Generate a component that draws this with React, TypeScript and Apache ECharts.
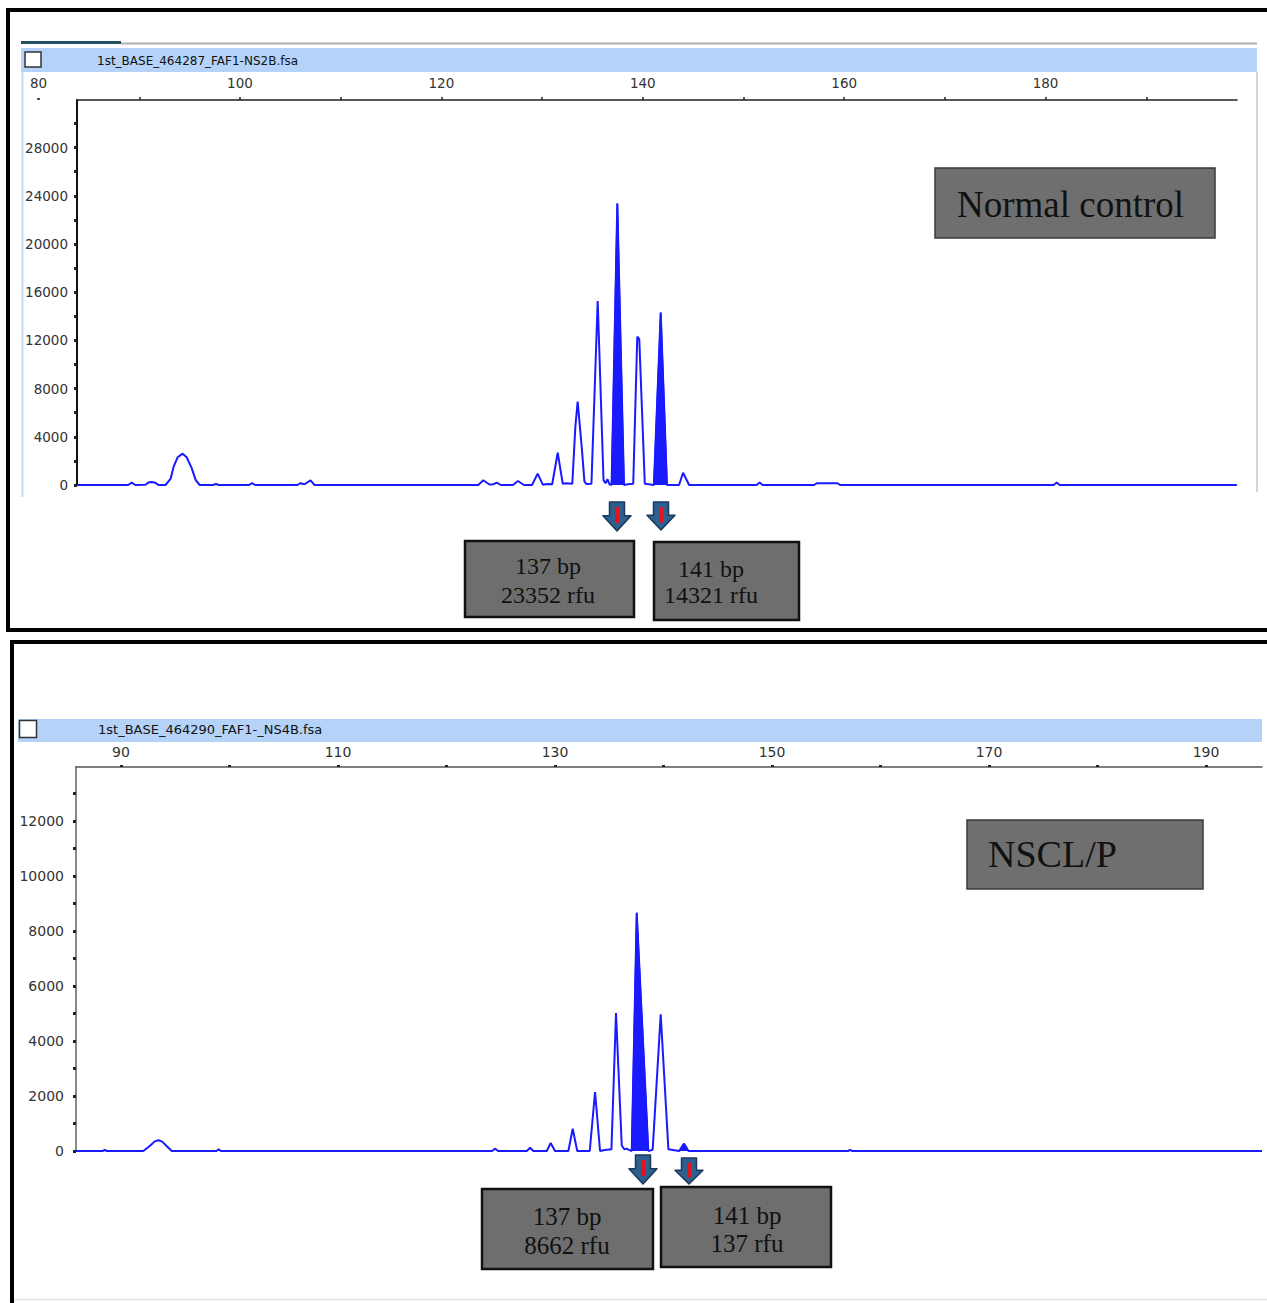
import React, { useEffect, useRef } from "react";
import * as echarts from "echarts";

// ---------------- Top panel : Normal control ----------------
const topFileName = "1st_BASE_464287_FAF1-NS2B.fsa";
const topPanelLabel = "Normal control";
const topSizeLabels = [80, 100, 120, 140, 160, 180];
const topSizeTicks = [90, 100, 110, 120, 130, 140, 150, 160, 170, 180, 190];
const topRfuLabels = [0, 4000, 8000, 12000, 16000, 20000, 24000, 28000];
const topRfuTicks = [0, 2000, 4000, 6000, 8000, 10000, 12000, 14000, 16000, 18000, 20000, 22000, 24000, 26000, 28000, 30000];
const topTrace: [number, number][] = [
  [83.81, 0], [88.9, 0], [89.25, 190], [89.6, 0], [90.6, 20], [90.9, 200], [91.2, 250], [91.6, 180], [91.9, 0],
  [92.6, 0], [93.1, 500], [93.4, 1500], [93.8, 2300], [94.3, 2600], [94.7, 2300], [95.2, 1400], [95.6, 400], [96.0, 0],
  [97.3, 0], [97.6, 80], [97.9, 0], [100.9, 0], [101.2, 150], [101.5, 0],
  [105.7, 0], [106.0, 150], [106.4, 60], [107.0, 390], [107.4, 0],
  [123.66, 0], [124.16, 390], [124.76, 40], [125.15, 60], [125.5, 190], [125.9, 0],
  [127.1, 0], [127.6, 330], [128.2, 0], [129.0, 0], [129.56, 940], [130.07, 30], [130.5, 80],
  [131.0, 60], [131.55, 2680], [132.05, 100], [132.4, 150], [133.0, 100], [133.3, 4800], [133.53, 6920],
  [133.95, 3000], [134.2, 300], [134.4, 80], [134.9, 100], [135.52, 15270], [136.1, 400], [136.3, 150],
  [136.5, 470], [136.7, 60], [136.9, 0], [137.47, 23352], [138.13, 0], [138.5, 60], [139.05, 100],
  [139.45, 12310], [139.65, 12100], [140.2, 100], [140.6, 60], [141.1, 0], [141.78, 14321], [142.4, 0],
  [143.6, 0], [144.0, 1020], [144.6, 0], [151.3, 0], [151.6, 200], [151.9, 0],
  [157.0, 0], [157.3, 150], [159.3, 150], [159.6, 0], [180.8, 0], [181.1, 200], [181.4, 0], [199.0, 0],
];
const topFilled137: [number, number][] = [[136.9, 0], [137.47, 23352], [138.13, 0]];
const topFilled141: [number, number][] = [[141.1, 0], [141.78, 14321], [142.4, 0]];
const topCallouts: [string, string][] = [["137 bp", "23352 rfu"], ["141 bp", "14321 rfu"]];

// ---------------- Bottom panel : NSCL/P ----------------
const botFileName = "1st_BASE_464290_FAF1-_NS4B.fsa";
const botPanelLabel = "NSCL/P";
const botSizeLabels = [90, 110, 130, 150, 170, 190];
const botSizeTicks = [90, 100, 110, 120, 130, 140, 150, 160, 170, 180, 190];
const botRfuLabels = [0, 2000, 4000, 6000, 8000, 10000, 12000];
const botRfuTicks = [0, 1000, 2000, 3000, 4000, 5000, 6000, 7000, 8000, 9000, 10000, 11000, 12000, 13000];
const botTrace: [number, number][] = [
  [85.85, 0], [88.3, 0], [88.5, 35], [88.7, 0], [92.06, 0], [92.7, 200], [93.1, 350], [93.44, 390],
  [93.8, 340], [94.2, 180], [94.67, 0], [98.8, 0], [99.0, 60], [99.2, 0],
  [124.2, 0], [124.47, 85], [124.75, 0], [127.4, 0], [127.7, 120], [128.0, 0],
  [129.24, 0], [129.6, 290], [130.0, 0], [131.23, 0], [131.63, 810], [132.05, 0],
  [133.2, 0], [133.69, 2145], [134.15, 0], [134.6, 40], [135.2, 60], [135.62, 5020], [136.15, 200],
  [136.4, 60], [136.6, 85], [136.8, 40], [137.07, 0], [137.53, 8662], [138.6, 0], [139.0, 40],
  [139.74, 4970], [140.45, 60], [141.45, 0], [141.89, 267], [142.3, 0],
  [157.0, 0], [157.2, 40], [157.4, 0], [195.16, 0],
];
const botFilled137: [number, number][] = [[137.07, 0], [137.53, 8662], [138.6, 0]];
const botFilled141: [number, number][] = [[141.45, 0], [141.89, 267], [142.3, 0]];
const botCallouts: [string, string][] = [["137 bp", "8662 rfu"], ["141 bp", "137 rfu"]];

const BLUE = "#1a1aff";
const AX_FONT = "DejaVu Sans";
const SERIF = "Liberation Serif";

function txt(x: number, y: number, text: string, font: string, align = "left", fill = "#111") {
  return {
    type: "text", x, y, silent: true, z: 10,
    style: { text, font, fill, align, verticalAlign: "middle", textAlign: align, textVerticalAlign: "middle" },
  };
}

function rect(x: number, y: number, w: number, h: number, fill: string, stroke?: string, lw = 1) {
  return {
    type: "rect", silent: true, z: 5,
    shape: { x, y, width: w, height: h },
    style: { fill, stroke: stroke || "none", lineWidth: lw },
  };
}

function line(x1: number, y1: number, x2: number, y2: number, stroke: string, lw: number) {
  return { type: "line", silent: true, z: 5, shape: { x1, y1, x2, y2 }, style: { stroke, lineWidth: lw } };
}

function arrow(cx: number, top: number, h: number) {
  const w = 28;
  const sw = 15;
  const hy = top + h * 0.47;
  return [
    {
      type: "polygon", silent: true, z: 6,
      shape: { points: [[cx - sw / 2, top], [cx + sw / 2, top], [cx + sw / 2, hy], [cx + w / 2, hy], [cx, top + h], [cx - w / 2, hy], [cx - sw / 2, hy]] },
      style: { fill: "#2d5f8f", stroke: "#1a3a5c", lineWidth: 1.5, lineJoin: "round" },
    },
    { type: "rect", silent: true, z: 7, shape: { x: cx - 2, y: top + 5, width: 4, height: h * 0.55 }, style: { fill: "#e3141b" } },
  ];
}

function callout(x: number, y: number, w: number, h: number, lines: [string, string], tx: number, ty1: number, ty2: number, size: number) {
  return [
    rect(x, y, w, h, "#6e6e6e", "#111", 2.5),
    txt(tx, ty1, lines[0], `${size}px "${SERIF}"`, "center"),
    txt(tx, ty2, lines[1], `${size}px "${SERIF}"`, "center"),
  ];
}

function traceSeries(xi: number, data: [number, number][]) {
  return {
    type: "line", xAxisIndex: xi, yAxisIndex: xi, data, symbol: "none", smooth: false,
    lineStyle: { color: BLUE, width: 2 }, z: 3, silent: true,
  };
}

function filledSeries(xi: number, data: [number, number][]) {
  return {
    type: "line", xAxisIndex: xi, yAxisIndex: xi, data, symbol: "none",
    lineStyle: { color: BLUE, width: 1.5 }, areaStyle: { color: BLUE, opacity: 1 }, z: 4, silent: true,
  };
}

export default function App() {
  const ref = useRef<HTMLDivElement>(null);
  useEffect(() => {
    if (!ref.current) return;
    const chart = echarts.init(ref.current, undefined, { renderer: "svg" });
    const fmt = (v: number) => String(v);
    const option: any = {
      animation: false,
      backgroundColor: "#ffffff",
      grid: [
        { left: 38.6, top: 100, width: 1198.4, height: 385 },
        { left: 77, top: 100, width: 1160, height: 385 },
        { left: 76, top: 767, width: 1186, height: 384 },
      ],
      xAxis: [
        {
          gridIndex: 0, type: "value", position: "top", min: 80, max: 199.01,
          axisLine: { show: false, onZero: false }, splitLine: { show: false },
          axisTick: { show: true, customValues: [80], length: 2, lineStyle: { color: "#333", width: 2.5 } },
          axisLabel: { customValues: topSizeLabels, margin: 10, fontSize: 13.5, fontFamily: AX_FONT, color: "#333", formatter: fmt },
        },
        {
          gridIndex: 1, type: "value", position: "top", min: 83.81, max: 199.01,
          axisLine: { show: true, onZero: false, lineStyle: { color: "#222", width: 1.5 } },
          splitLine: { show: false },
          axisTick: { show: true, customValues: topSizeTicks, length: 3, lineStyle: { color: "#222", width: 1.5 } },
          axisLabel: { show: false },
        },
        {
          gridIndex: 2, type: "value", position: "top", min: 85.85, max: 195.16,
          axisLine: { show: true, onZero: false, lineStyle: { color: "#555", width: 1.5 } },
          splitLine: { show: false },
          axisTick: { show: true, customValues: botSizeTicks, length: 2, lineStyle: { color: "#222", width: 3 } },
          axisLabel: { customValues: botSizeLabels, margin: 8, fontSize: 14, fontFamily: AX_FONT, color: "#333", formatter: fmt },
        },
      ],
      yAxis: [
        { gridIndex: 0, type: "value", min: 0, max: 1, show: false },
        {
          gridIndex: 1, type: "value", min: 0, max: 31950,
          axisLine: { show: true, onZero: false, lineStyle: { color: "#111", width: 2 } },
          splitLine: { show: false },
          axisTick: { show: true, customValues: topRfuTicks, length: 3, lineStyle: { color: "#222", width: 3 } },
          axisLabel: { customValues: topRfuLabels, margin: 9, fontSize: 13.5, fontFamily: AX_FONT, color: "#333", formatter: fmt },
        },
        {
          gridIndex: 2, type: "value", min: 0, max: 13964,
          axisLine: { show: true, onZero: false, lineStyle: { color: "#888", width: 2 } },
          splitLine: { show: false },
          axisTick: { show: true, customValues: botRfuTicks, length: 3, lineStyle: { color: "#222", width: 3 } },
          axisLabel: { customValues: botRfuLabels, margin: 12, fontSize: 14, fontFamily: AX_FONT, color: "#333", formatter: fmt },
        },
      ],
      series: [
        traceSeries(1, topTrace),
        filledSeries(1, topFilled137),
        filledSeries(1, topFilled141),
        traceSeries(2, botTrace),
        filledSeries(2, botFilled137),
        filledSeries(2, botFilled141),
      ],
      graphic: {
        elements: [
          // top panel frame
          { type: "rect", silent: true, z: 1, shape: { x: 8, y: 10, width: 1275, height: 620 }, style: { fill: "none", stroke: "#000", lineWidth: 4 } },
          line(21, 42.5, 121, 42.5, "#24505f", 3),
          line(121, 43.5, 1257, 43.5, "#b0b0b0", 2),
          rect(21, 48, 1236, 24, "#b5d3f8"),
          rect(25, 52, 16, 15, "#ffffff", "#333", 1.5),
          txt(97, 61, topFileName, `12px "${AX_FONT}"`, "left", "#111"),
          line(22.5, 72, 22.5, 497, "#c5dbf2", 2),
          line(1257, 72, 1257, 492, "#c4c4c4", 1.5),
          rect(935, 168, 280, 70, "#6f6f6f", "#3a3a3a", 1.5),
          txt(957, 204, topPanelLabel, `37px "${SERIF}"`, "left", "#111"),
          ...arrow(617, 502, 29),
          ...arrow(661, 502, 28),
          ...callout(465, 541, 169, 76, topCallouts[0], 548, 566, 595, 24),
          ...callout(654, 542, 145, 78, topCallouts[1], 711, 569, 595, 24),
          // bottom panel frame
          { type: "rect", silent: true, z: 1, shape: { x: 12, y: 642, width: 1275, height: 700 }, style: { fill: "none", stroke: "#000", lineWidth: 4 } },
          rect(18, 719, 1244, 23, "#b5d3f8"),
          rect(19.5, 720.5, 17, 17, "#ffffff", "#333", 1.5),
          txt(98, 729, botFileName, `13px "${AX_FONT}"`, "left", "#111"),
          line(14, 1299.5, 1267, 1299.5, "#e2e2e2", 1.5),
          rect(967, 820, 236, 69, "#6f6f6f", "#3a3a3a", 1.5),
          txt(988, 854, botPanelLabel, `38px "${SERIF}"`, "left", "#111"),
          ...arrow(643, 1155, 29),
          ...arrow(689, 1158, 26),
          ...callout(482, 1189, 171, 80, botCallouts[0], 567, 1216, 1245, 25),
          ...callout(661, 1187, 170, 80, botCallouts[1], 747, 1215, 1243, 25),
        ],
      },
    };
    chart.setOption(option);
    return () => chart.dispose();
  }, []);
  return (
    <div
      ref={ref}
      style={{ position: "absolute", left: 0, top: 0, width: 1267, height: 1303, background: "#fff" }}
    />
  );
}
